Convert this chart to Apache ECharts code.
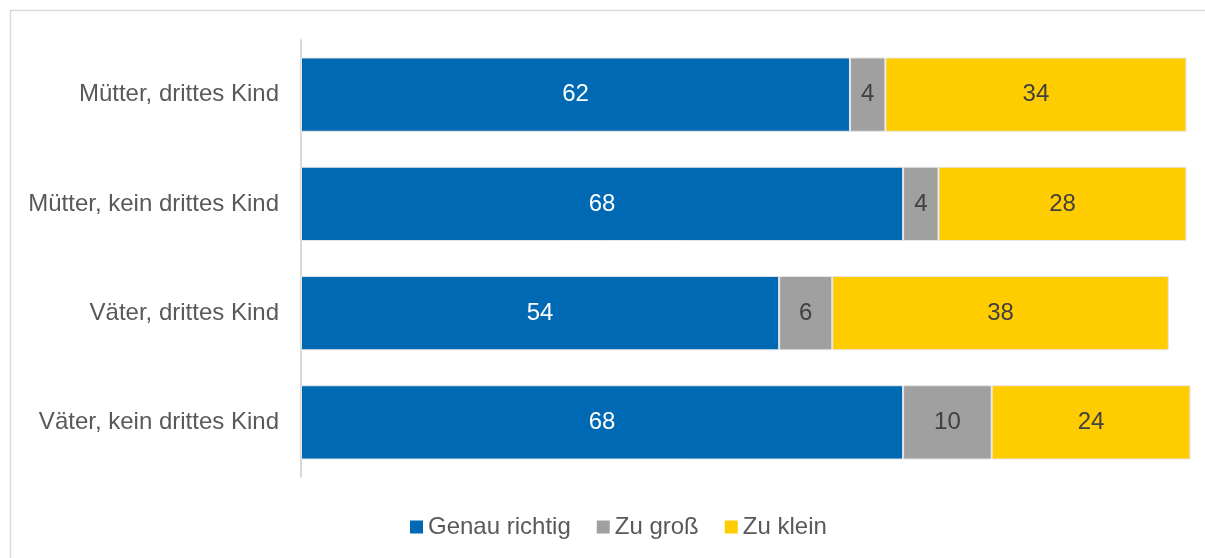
<!DOCTYPE html>
<html>
<head>
    <meta charset="UTF-8" />
    <title>Genau richtig / Zu groß / Zu klein</title>
    <script src="https://cdn.jsdelivr.net/npm/echarts@6/dist/echarts.min.js"></script>
    <style>
        html, body { margin: 0; padding: 0; background: #fff; }
        #main { width: 1205px; height: 558px; }
    </style>
</head>
<body>
<div id="main"></div>
<script>
var chartDom = document.getElementById('main');
var myChart = echarts.init(chartDom);

// categories, top to bottom as in the picture
var categories = ['Mütter, drittes Kind', 'Mütter, kein drittes Kind', 'Väter, drittes Kind', 'Väter, kein drittes Kind'];
var genauRichtig = [62, 68, 54, 68];
var zuGross = [4, 4, 6, 10];
var zuKlein = [34, 28, 38, 24];

var FONT = 'Arial, "Liberation Sans", sans-serif';

function makeSeries(name, values, color, labelColor) {
    return {
        name: name,
        type: 'bar',
        stack: 'total',
        barWidth: '68%',
        clip: true,
        data: values,
        itemStyle: {
            color: color,
            borderColor: '#e6e6e6',
            borderWidth: 1
        },
        label: {
            show: true,
            position: 'inside',
            color: labelColor,
            fontSize: 24,
            fontFamily: FONT
        },
        emphasis: { disabled: true }
    };
}

var option = {
    backgroundColor: '#fff',
    animation: false,
    // light frame around the chart area, as in the original export
    graphic: [{
        type: 'rect',
        shape: { x: 10.5, y: 10.5, width: 1220, height: 600 },
        style: { fill: 'none', stroke: '#d9d9d9', lineWidth: 1.5 },
        silent: true
    }],
    grid: {
        left: 301,
        right: 15,
        top: 40,
        bottom: 81
    },
    legend: {
        top: 510,
        left: 405,
        itemWidth: 13,
        itemHeight: 13,
        itemGap: 26,
        icon: 'rect',
        itemStyle: { borderWidth: 0 },
        textStyle: { color: '#595959', fontSize: 24, fontFamily: FONT },
        data: ['Genau richtig', 'Zu groß', 'Zu klein']
    },
    xAxis: {
        type: 'value',
        min: 0,
        max: 100.4,
        show: false
    },
    yAxis: {
        type: 'category',
        inverse: true,
        data: categories,
        axisLine: { show: true, lineStyle: { color: '#d9d9d9', width: 2 } },
        axisTick: { show: false },
        axisLabel: { color: '#595959', fontSize: 24, fontFamily: FONT, margin: 22 }
    },
    series: [
        makeSeries('Genau richtig', genauRichtig, '#0069b4', '#ffffff'),
        makeSeries('Zu groß', zuGross, '#a0a0a0', '#404040'),
        makeSeries('Zu klein', zuKlein, '#ffcc00', '#404040')
    ]
};

myChart.setOption(option);
</script>
</body>
</html>
